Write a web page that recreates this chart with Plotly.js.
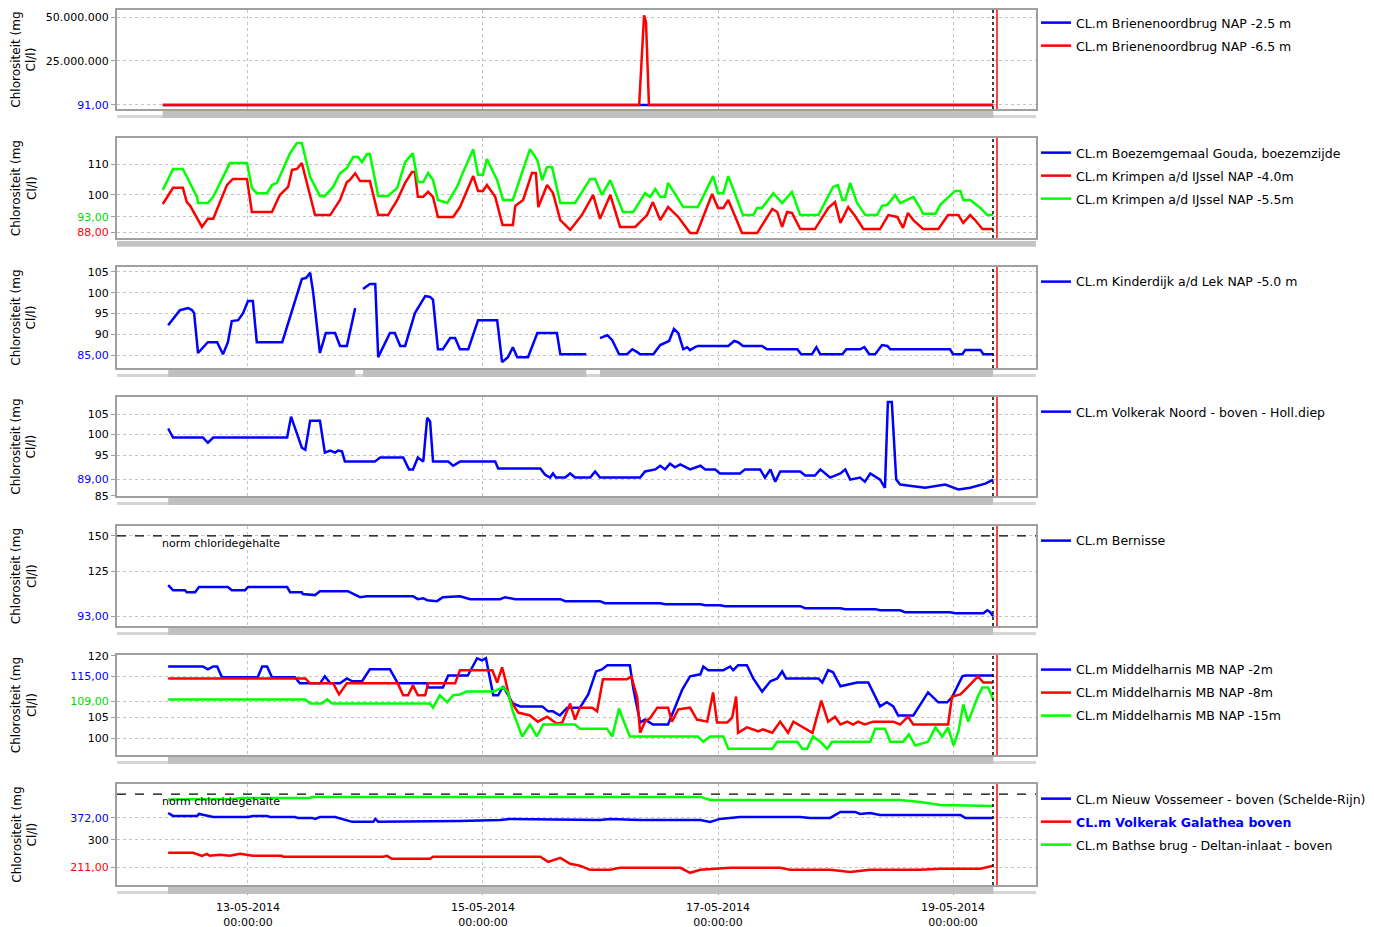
<!DOCTYPE html>
<html><head><meta charset="utf-8">
<script src="https://cdn.plot.ly/plotly-3.0.1.min.js"></script>
<style>html,body{margin:0;padding:0;background:#fff}</style>
</head><body><div id="chart" style="width:1374px;height:927px"></div>
<script>
// ---------- DATA (time = hours after 12-05-2014 00:00) ----------
const xTickVals = ['2014-05-13 00:00','2014-05-15 00:00','2014-05-17 00:00','2014-05-19 00:00'];
const xTickText = ['13-05-2014<br>00:00:00','15-05-2014<br>00:00:00','17-05-2014<br>00:00:00','19-05-2014<br>00:00:00'];

// Panel 1
const brien25_h = [6.6, 176.2];
const brien25_v = [95, 91];
const brien65_h = [6.6, 103.9, 104.9, 105.3, 105.9, 176.2];
const brien65_v = [98, 100, 51000000, 47000000, 100, 98];

// Panel 2 (Gouda: no measurements in this period)
const gouda_h = [6.6];
const gouda_v = [null];
const krimpen40_h = [6.6,8.7,10.7,11.5,12.2,14.6,15.8,16.9,19.7,20.9,23.8,24.8,28.9,30.5,32.2,33.0,34.0,35.0,37.7,40.8,42.8,44.2,44.8,45.9,46.9,48.9,50.6,52.6,54.5,56.1,57.5,58.1,58.7,59.8,60.8,61.8,62.8,65.9,67.3,70.0,71.0,72.0,72.8,74.5,76.0,78.1,78.6,80.2,82.0,82.8,83.3,85.1,86.3,87.8,89.8,92.2,94.5,95.9,98.0,99.4,100.0,103.1,105.5,106.7,108.2,109.8,111.9,114.3,115.7,118.8,120.0,121.1,122.1,124.9,128.0,131.1,132.1,133.1,134.1,135.1,136.8,139.8,142.5,143.9,145.0,146.6,148.0,149.7,153.1,154.8,156.6,157.8,158.8,159.9,161.9,165.0,167.0,169.1,170.1,171.5,172.5,174.0,176.2];
const krimpen40_v = [97.1,102.3,102.3,97.7,96.5,89.7,92.3,92.3,103.2,105.2,105.2,94.5,94.5,100,102.6,108.1,108.4,110.3,93.5,93.5,98.4,104.2,104.8,107,104.5,104.5,93.5,93.5,98.4,103.9,107.4,107.4,99.4,99.4,101,99.4,92.9,92.9,96.1,106.1,101.3,101.3,103.2,99.4,90.3,90.3,96.5,98.4,107.1,107.1,96.1,103.2,100.6,91.9,88.7,93.5,100,92.3,100,92.6,89.7,89.7,93.5,97.7,91.9,96.1,92.9,87.7,87.7,100.3,95.8,95.8,98.4,87.7,87.7,95.5,94.5,89.7,94.5,94.2,89,89,95.8,97.7,91,96.1,93.2,89,89,93.5,92.9,89.4,94.2,91.9,89,89,93.5,93.5,91,93.5,91.9,89,89];
const krimpen55_h = [6.6,8.7,10.7,13.6,13.8,15.8,16.9,20.3,23.8,24.8,25.8,27.9,28.9,29.9,32.6,34.0,35.0,36.7,38.7,39.7,41.4,42.8,44.2,45.5,46.5,47.3,48.3,48.9,50.6,52.6,54.5,56.1,57.5,57.7,58.7,59.8,60.8,61.8,62.8,64.7,66.7,67.7,70.0,71.0,72.0,72.8,74.9,76.1,78.1,81.6,83.1,84.1,85.1,86.1,87.8,90.8,93.9,94.9,96.3,98.0,100.6,102.7,105.1,106.1,107.2,108.2,109.2,109.8,112.9,115.9,119.0,120.0,121.1,122.1,125.1,127.2,128.0,129.0,131.3,133.1,135.1,136.8,140.5,143.5,144.5,145.4,146.0,147.0,148.4,150.1,152.5,153.5,154.6,156.2,157.2,158.6,159.9,161.3,161.9,164.4,165.4,168.4,169.5,170.1,171.5,173.6,175.0,176.2];
const krimpen55_v = [101.6,108.4,108.4,99.4,97.4,97.4,99.4,110.3,110.3,102.3,100.6,100.6,103.2,103.9,113.5,116.8,116.8,105.8,99.7,99.7,102.6,107,108.7,112.3,112.3,110.6,113.2,113.2,99.7,99.7,102.3,110.6,113.2,113.2,104.2,104.2,107.1,104.8,98.4,97.4,102.6,106.5,114.8,106.5,106.5,111.6,104.8,98.4,98.4,114.8,111.3,104.8,109,109,97.4,97.4,105.2,105.2,100,104.8,94.5,94.5,100.6,99.4,101.9,99.4,99.4,103.9,96.1,96.1,106.1,100.6,100.6,106.1,93.5,93.5,95.8,95.8,100.6,97.4,101,93.5,93.5,102.6,103.2,98.4,98.4,103.9,97.4,93.5,93.5,96.5,96.8,100,97.4,98.4,99.4,95.8,93.9,93.9,96.8,101.3,101.3,98.4,98.4,95.8,93.5,93.5];

// Panel 3
const kinder_h = [7.7,10.1,11.8,12.6,13.0,13.8,15.8,17.7,18.9,19.9,20.7,22.0,23.0,24.0,25.0,25.8,31.0,32.6,35.0,35.9,36.7,37.3,38.7,39.9,41.8,42.8,44.2,45.9,46.7,47.5,48.9,50.0,50.6,53.0,54.0,55.1,56.1,58.1,60.2,61.2,61.8,62.8,63.8,65.3,66.3,67.3,69.0,71.0,74.9,75.9,77.1,78.1,79.0,81.2,83.1,87.1,87.8,93.1,94.5,95.9,97.4,98.4,99.8,101.4,102.5,103.5,104.1,106.8,108.2,110.0,111.0,111.9,112.9,113.7,114.3,115.3,115.9,122.1,123.3,124.1,125.1,129.0,130.0,136.2,137.0,139.2,140.1,140.9,145.4,146.2,149.0,149.9,150.9,152.1,153.5,154.6,155.2,167.4,168.0,169.9,170.5,173.6,174.2,176.2];
const kinder_v = [92.2,95.8,96.3,95.8,95.1,85.5,88.1,88.1,85.2,88.1,93.2,93.4,95.1,98,98,88.1,88.1,94.2,103.3,103.6,104.8,100.2,85.5,90.3,90.3,87.2,87.2,96.3,null,100.9,102.1,102.1,84.5,90.3,90.3,87.2,87.2,95.1,99.2,99,98.3,86.4,86.4,89.1,89.1,86.4,86.4,93.4,93.4,83.3,84.5,86.9,84.5,84.5,90.3,90.3,85.2,85.2,null,89.1,89.8,88.6,85.2,85.2,86.4,85.7,85.2,85.2,87.4,88.4,91.3,90.3,86.4,86.9,86.2,86.9,87.2,87.2,88.4,88.1,87.2,87.2,86.4,86.4,85.2,85.2,86.9,85.2,85.2,86.4,86.4,86.9,85.2,85.2,87.4,87.2,86.4,86.4,85.2,85.2,86.2,86.2,85.2,85.2];

// Panel 4
const volknoord_h = [7.7,8.7,14.8,15.8,16.9,32.0,32.8,34.0,35.0,35.7,36.7,38.7,39.7,40.8,41.8,42.4,43.2,43.8,49.9,51.0,55.7,56.9,57.7,58.7,59.8,60.6,61.2,61.8,64.9,65.9,67.3,74.5,75.1,83.7,84.7,85.7,86.3,86.9,88.8,89.8,90.8,93.9,94.9,95.9,104.1,105.1,107.2,108.2,109.2,110.2,111.2,112.3,114.3,116.4,117.4,119.4,120.4,124.5,125.5,128.6,129.6,130.7,131.7,132.7,136.8,137.8,139.8,140.9,142.9,145.0,146.0,147.0,149.0,150.0,151.1,153.1,154.1,154.7,155.5,156.4,157.2,162.3,166.4,169.1,171.5,174.6,176.2];
const volknoord_v = [101.5,99.3,99.3,98,99.3,99.3,104.4,100.5,96.8,96.3,103.4,103.4,95.6,96.1,95.6,96.1,95.9,93.4,93.4,94.4,94.4,91.5,91.5,94.4,93.4,104.1,103.2,93.4,93.4,92.4,93.4,93.4,91.7,91.7,90.2,89.5,90.5,89.5,89.5,90.5,89.5,89.5,91,89.5,89.5,91,91.5,92.4,91.5,92.9,92,92.7,91.5,92.4,91.5,91.5,90.5,90.5,91.5,91.5,89.5,91.5,88.5,91,91,90,90,91.5,89.5,90.5,91.5,89,89.5,88.5,90.5,89,87,108,108,89,87.8,87,87.8,86.6,87,88,89];

// Panel 5
const bernisse_h = [7.7,8.7,11.1,11.5,13.2,14.0,19.9,20.7,23.4,24.0,32.0,32.6,35.0,35.2,37.7,38.7,44.4,46.9,48.3,57.7,58.7,59.8,60.6,62.6,63.8,67.3,69.4,75.5,76.5,78.6,87.8,88.8,95.9,96.9,108.2,109.2,116.4,117.4,120.4,121.5,136.8,137.8,145.0,146.0,152.1,153.1,157.2,158.2,167.4,168.4,174.2,175.0,175.6,176.2];
const bernisse_v = [115,111.4,111.4,110,110,113.6,113.6,111.4,111.4,113.6,113.6,110,110,108.6,107.9,110.7,110.7,106.4,107.1,107.1,105,105.7,104.3,103.6,106.4,107.1,105,105,106.4,105,105,103.6,103.6,102.1,102.1,101.4,101.4,100.7,100.7,100,100,98.6,98.6,97.9,97.9,97.1,97.1,95.7,95.7,95,95,97.1,95.7,92.9];

// Panel 6
const mh2_h = [7.7,14.8,15.8,16.9,17.7,18.7,26.0,26.9,27.9,28.9,33.6,34.6,38.7,39.7,40.8,42.8,44.2,45.3,47.3,48.9,53.0,54.6,60.6,60.8,63.8,64.9,68.9,70.8,71.8,72.6,74.1,75.1,76.1,78.1,79.6,84.1,85.3,86.3,87.7,89.2,91.8,93.5,95.1,96.3,97.4,102.0,102.7,104.1,105.1,106.7,109.8,110.8,112.7,114.3,116.4,117.0,118.0,121.1,122.5,123.1,124.1,125.9,127.2,129.0,130.7,132.1,133.1,133.9,140.5,141.3,142.5,143.5,145.0,148.4,150.7,153.1,154.5,155.8,156.8,159.9,162.9,165.0,166.8,167.8,169.9,170.5,176.2];
const mh2_v = [117.4,117.4,116.7,117.4,117.4,114.8,114.8,117.4,117.4,114.8,114.8,113.3,113.3,115,113.3,113.3,114.5,113.8,113.8,116.7,116.7,113.3,113.3,112.3,112.3,115.2,115.2,119.4,118.9,119.4,110.4,110.4,112.6,108.4,107.7,107.7,106.5,106.5,105.5,107.4,107.4,110.6,116.2,116.7,117.7,117.7,112.1,103.8,104.5,103.3,103.3,106.2,111.8,115,115.5,117.4,116.5,116.5,117.4,116.5,117.7,117.7,114.5,111.3,113.8,114.5,116.2,114.5,114.5,113.5,116.5,116,112.6,113.5,113.5,107.7,108.7,107.7,105.5,105.5,111.1,108.7,108.7,109.9,115,115.2,115.2];
const mh8_h = [7.7,35.7,36.7,41.4,42.6,44.2,54.6,55.7,56.7,57.7,58.7,60.2,60.8,66.3,67.3,73.9,74.9,75.9,76.5,77.5,79.2,81.6,83.2,85.1,87.1,88.2,89.8,90.8,91.8,94.3,95.3,96.5,101.4,102.3,103.5,104.1,105.1,106.1,107.6,109.8,110.6,111.9,114.3,115.7,117.8,119.0,119.8,121.9,122.9,123.7,124.1,125.9,127.2,128.2,129.2,131.1,132.7,134.3,135.4,137.2,139.3,141.1,142.5,143.9,145.0,146.4,147.6,148.6,150.0,151.7,155.8,157.2,158.8,159.9,167.0,167.8,169.5,170.5,171.9,173.1,174.2,176.2];
const mh8_v = [114.5,114.5,113.3,113.3,110.6,113.3,113.3,110.4,110.4,112.8,110.4,110.4,113.3,113.3,116.5,116.5,113.5,117.2,114.5,109.4,106.2,105.5,104,105.2,103.5,103.8,108.4,104.5,107.4,107.4,106.5,114.3,114.3,115,109.9,101.3,104,104.8,107.4,107.4,104,107,107.4,104.5,104,111.1,103.8,103.8,105,110.1,101.3,102.6,102.1,101.6,102.1,101.3,104,101.3,104,102.8,101.3,109.1,104,105.2,103.3,104,103.3,104,103.3,104,104,103.3,105.2,103.3,103.3,110.1,110.6,111.8,113.5,115,113.5,113.5];
const mh15_h = [7.7,35.7,36.7,39.1,40.2,41.2,61.2,61.8,63.2,64.7,65.9,67.3,68.7,74.1,76.1,77.1,78.1,80.0,81.6,83.0,84.3,90.8,91.8,97.3,98.4,99.8,100.6,102.0,115.9,117.0,118.4,121.1,122.1,131.1,132.1,136.2,137.2,138.2,139.4,140.9,142.3,143.3,151.1,152.1,154.1,155.2,157.8,159.0,160.3,162.9,164.4,165.8,167.0,168.1,169.1,170.1,171.1,173.0,174.0,175.2,176.2];
const mh15_v = [109.4,109.4,108.4,108.4,109.4,108.4,108.4,107.4,110.4,108.7,110.4,110.6,111.3,111.3,112.3,111.1,106.5,100.4,103.3,100.4,103.3,103.3,102.3,102.3,100.4,107.2,104.5,100.4,100.4,99.1,100.4,100.4,97.4,97.4,99.1,99.1,97.4,97.4,100.4,99.1,97.4,99.1,99.1,102.3,102.3,99.1,99.1,100.9,98.2,99.1,102.6,100.4,102.6,98.2,101.6,108.2,104,109.9,112.3,112.3,109.4];

// Panel 7
const vossemeer_h = [7.7,8.7,13.6,14.0,14.8,16.9,24.0,25.0,27.9,28.5,33.6,34.2,37.1,37.7,38.7,41.8,45.3,49.6,50.0,50.6,67.3,75.5,77.5,88.8,95.9,97.9,104.1,116.4,118.4,120.4,124.5,136.8,138.8,142.9,145.0,148.0,149.0,151.1,153.1,169.5,170.5,176.2];
const vossemeer_v = [388,378.5,378.5,385,382,375,375,378.5,378.5,375,375,372,372,368.7,375,375,359,359,368.7,359,362,365.4,368.7,365.4,365.4,368.7,365.4,365.4,359,368.7,375,375,372,372,391.6,391.6,385,388,381.8,381.8,372,372];
const galathea_h = [7.7,12.8,14.6,15.6,16.2,18.3,20.3,22.4,25.0,30.9,31.2,51.6,52.4,53.4,61.2,61.8,83.7,85.3,87.8,89.8,91.8,93.9,98.0,100.0,112.3,114.3,116.4,122.5,132.7,134.7,142.9,147.0,151.1,161.3,165.4,173.6,176.2];
const galathea_v = [257.5,257.5,247.6,254,247.6,251,247.6,254,247.6,247.6,244.4,244.4,247.6,237.8,237.8,244.4,244.4,228,241,221.5,215,201.8,201.8,208.4,208.4,192,201.8,208.4,208.4,201.8,201.8,195,201.8,201.8,205,205,215];
const bathse_h = [7.7,20.9,22.8,36.7,37.1,67.3,116.4,118.4,157.2,161.3,165.4,176.2];
const bathse_v = [432,434,437.4,437.4,440.7,440.7,440.7,431,431,424.3,414.5,411];

// ---------- RENDER ----------
const BASE = Date.UTC(2014, 4, 12, 0, 0, 0);
function toTime(hours) {
  return hours.map(h => new Date(BASE + h * 3600000).toISOString().slice(0, 16).replace('T', ' '));
}
const FONT = 'DejaVu Sans, Verdana, sans-serif';
const BLUE = '#0000ff', RED = '#ff0000', GREEN = '#00ff00';
const span = (c, t) => '<span style="color:' + c + '">' + t + '</span>';

const panels = [
  { range: [-2300000, 54000000], tv: [91, 25000000, 50000000], tt: [span(BLUE, '91,00'), '25.000.000', '50.000.000'],
    series: [['CL.m Brienenoordbrug NAP -2.5 m', brien25_h, brien25_v, BLUE], ['CL.m Brienenoordbrug NAP -6.5 m', brien65_h, brien65_v, RED]] },
  { range: [86.1, 118.4], tv: [88, 93, 100, 110], tt: [span(RED, '88,00'), span('#00d800', '93,00'), '100', '110'], fullBar: true,
    series: [['CL.m Boezemgemaal Gouda, boezemzijde', gouda_h, gouda_v, BLUE], ['CL.m Krimpen a/d IJssel NAP -4.0m', krimpen40_h, krimpen40_v, RED], ['CL.m Krimpen a/d IJssel NAP -5.5m', krimpen55_h, krimpen55_v, GREEN]] },
  { range: [81.9, 106.2], tv: [85, 90, 95, 100, 105], tt: [span(BLUE, '85,00'), '90', '95', '100', '105'],
    series: [['CL.m Kinderdijk a/d Lek NAP -5.0 m', kinder_h, kinder_v, BLUE]] },
  { range: [85, 109.2], tv: [85, 89, 95, 100, 105], tt: ['85', span(BLUE, '89,00'), '95', '100', '105'],
    series: [['CL.m Volkerak Noord - boven - Holl.diep', volknoord_h, volknoord_v, BLUE]] },
  { range: [85.9, 157.1], tv: [93, 125, 150], tt: [span(BLUE, '93,00'), '125', '150'], norm: 150,
    series: [['CL.m Bernisse', bernisse_h, bernisse_v, BLUE]] },
  { range: [95.9, 120.2], tv: [100, 105, 109, 115, 120], tt: ['100', '105', span('#00d800', '109,00'), span(BLUE, '115,00'), '120'],
    series: [['CL.m Middelharnis MB NAP -2m', mh2_h, mh2_v, BLUE], ['CL.m Middelharnis MB NAP -8m', mh8_h, mh8_v, RED], ['CL.m Middelharnis MB NAP -15m', mh15_h, mh15_v, GREEN]] },
  { range: [152, 483], tv: [211, 300, 372], tt: [span(RED, '211,00'), '300', span(BLUE, '372,00')], norm: 450,
    series: [['CL.m Nieuw Vossemeer - boven (Schelde-Rijn)', vossemeer_h, vossemeer_v, BLUE], ['<b>' + span(BLUE, 'CL.m Volkerak Galathea boven') + '</b>', galathea_h, galathea_v, RED], ['CL.m Bathse brug - Deltan-inlaat - boven', bathse_h, bathse_v, GREEN]] }
];

const domains = [[0.8869, 1], [0.7394, 0.8537], [0.5909, 0.7063], [0.4446, 0.5577], [0.2960, 0.4103], [0.1486, 0.2629], [0, 0.1154]];
const legendShift = [2, 0, 0, 0, 0, 0, 0];
const xRange = ['2014-05-11 21:15', '2014-05-19 16:57'];
const markerBlack = '2014-05-19 08:10', markerRed = '2014-05-19 08:59';

const traces = [], shapes = [], annotations = [];
const layout = {
  width: 1374, height: 927, margin: { l: 117, r: 338, t: 10, b: 42, autoexpand: false },
  paper_bgcolor: '#fff', plot_bgcolor: '#fff', showlegend: true,
  font: { family: FONT, size: 11, color: '#000' },
  hovermode: false
};

panels.forEach((p, idx) => {
  const i = idx + 1;
  const xn = i === 1 ? 'x' : 'x' + i, yn = i === 1 ? 'y' : 'y' + i;
  const xk = i === 1 ? 'xaxis' : 'xaxis' + i, yk = i === 1 ? 'yaxis' : 'yaxis' + i;
  const lg = i === 1 ? 'legend' : 'legend' + i;
  const last = i === 7;
  layout[xk] = {
    domain: [0, 1], anchor: yn, type: 'date', range: xRange,
    tickmode: 'array', tickvals: xTickVals, ticktext: xTickText,
    showticklabels: last, ticks: last ? 'outside' : '', ticklen: 8, tickcolor: '#a0a0a0',
    ticklabelstandoff: 3,
    tickfont: { family: FONT, size: 11, color: '#000' },
    showgrid: true, gridcolor: '#c4c4c4', griddash: 'dot', gridwidth: 1,
    showline: true, mirror: true, linecolor: '#a0a0a0', linewidth: 2, zeroline: false, fixedrange: true
  };
  if (i > 1) layout[xk].matches = 'x';
  layout[yk] = {
    domain: domains[idx], anchor: xn, range: p.range,
    tickmode: 'array', tickvals: p.tv, ticktext: p.tt,
    ticks: 'outside', ticklen: 4, tickcolor: '#a0a0a0',
    tickfont: { family: FONT, size: 11, color: '#000' },
    showgrid: true, gridcolor: '#c4c4c4', griddash: 'dot', gridwidth: 1,
    showline: true, mirror: true, linecolor: '#a0a0a0', linewidth: 2, zeroline: false, fixedrange: true
  };
  layout[lg] = {
    x: 1.0, xanchor: 'left', y: domains[idx][1] + legendShift[idx] / 875, yanchor: 'top',
    bgcolor: 'rgba(0,0,0,0)', font: { family: FONT, size: 12.5, color: '#000' },
    tracegroupgap: 3.75, itemwidth: 30
  };
  const segs = [];
  p.series.forEach((s, k) => {
    const [name, hh, vv, col] = s;
    traces.push({
      type: 'scatter', mode: 'lines', name: name, x: toTime(hh), y: vv,
      xaxis: xn, yaxis: yn, legend: lg, legendgroup: 'g' + i + '_' + k,
      line: { color: col, width: 2.5 }, connectgaps: false, showlegend: true
    });
    let st = null;
    for (let j = 0; j < hh.length; j++) {
      if (vv[j] === null) { if (st !== null) segs.push([st, hh[j - 1]]); st = null; }
      else if (st === null) st = hh[j];
    }
    if (st !== null) segs.push([st, hh[hh.length - 1]]);
  });
  shapes.push({ type: 'rect', xref: 'paper', x0: 0, x1: 1, yref: yn + ' domain', ysizemode: 'pixel', yanchor: 0, y0: -6, y1: -9,
    fillcolor: '#d6d6d6', line: { width: 0 } });
  if (p.fullBar) {
    shapes.push({ type: 'rect', xref: 'paper', x0: 0, x1: 1, yref: yn + ' domain', ysizemode: 'pixel', yanchor: 0, y0: -3, y1: -8,
      fillcolor: '#c4c4c4', line: { width: 0 } });
  } else {
    segs.forEach(sg => shapes.push({ type: 'rect', xref: xn, x0: toTime([sg[0]])[0], x1: toTime([sg[1]])[0],
      yref: yn + ' domain', ysizemode: 'pixel', yanchor: 0, y0: -2, y1: -9, fillcolor: '#c0c0c0', line: { width: 0 } }));
  }
  shapes.push({ type: 'line', xref: xn, x0: markerBlack, x1: markerBlack, yref: yn + ' domain', y0: 0, y1: 1,
    line: { color: '#000', width: 1.5, dash: 'dot' } });
  shapes.push({ type: 'line', xref: xn, x0: markerRed, x1: markerRed, yref: yn + ' domain', y0: 0, y1: 1,
    line: { color: RED, width: 1.5 } });
  if (p.norm) {
    shapes.push({ type: 'line', xref: xn + ' domain', x0: 0, x1: 1, yref: yn, y0: p.norm, y1: p.norm,
      line: { color: '#000', width: 1.3, dash: 'dash' } });
    annotations.push({ xref: 'paper', x: 0.047, xanchor: 'left', yref: yn, y: p.norm, yanchor: 'top', yshift: 1,
      text: 'norm chloridegehalte', showarrow: false, font: { family: FONT, size: 11, color: '#000' } });
  }
  annotations.push({ xref: 'paper', x: -0.101, xanchor: 'center', yref: 'paper', y: (domains[idx][0] + domains[idx][1]) / 2, yanchor: 'middle',
    text: 'Chlorositeit (mg<br>Cl/l)', textangle: -90, showarrow: false, font: { family: FONT, size: 12, color: '#000' } });
});

layout.shapes = shapes;
layout.annotations = annotations;

Plotly.newPlot('chart', traces, layout, { displayModeBar: false, staticPlot: true });
</script>
</body></html>
